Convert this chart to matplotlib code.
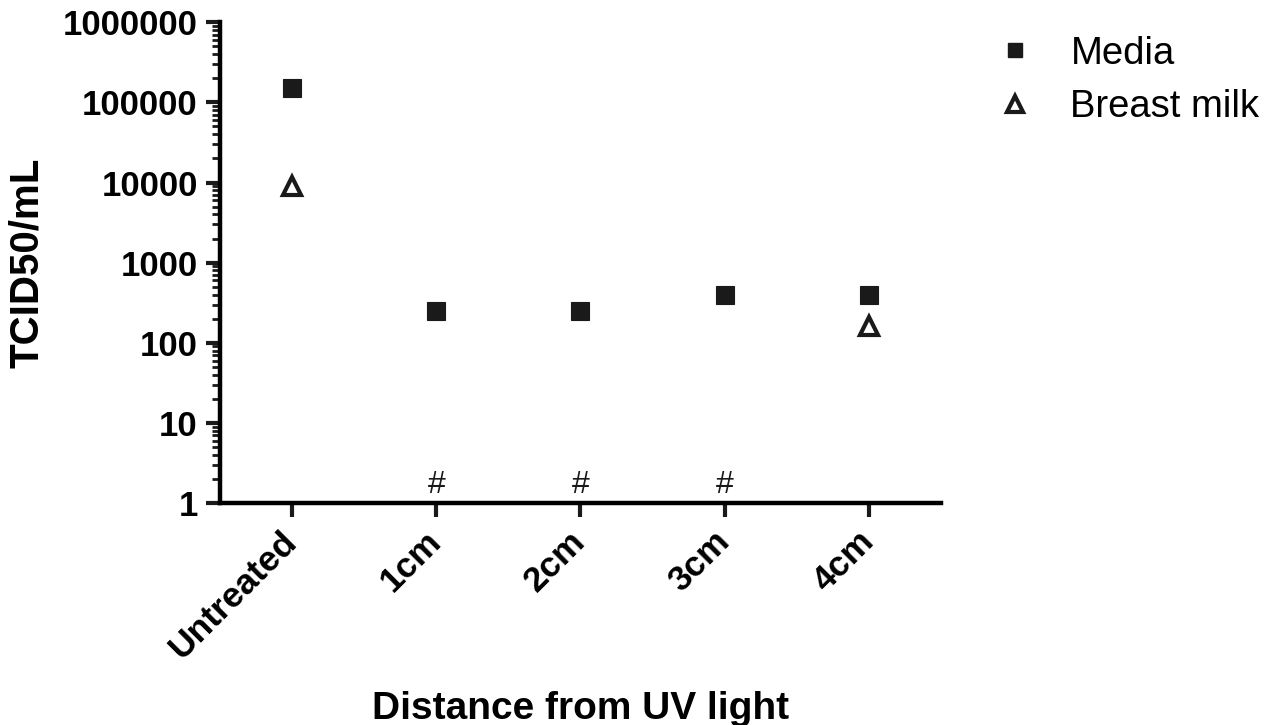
import numpy as np
import matplotlib
matplotlib.use("Agg")
import matplotlib.pyplot as plt
import matplotlib.ticker as mticker
from matplotlib.lines import Line2D

plt.rcParams["font.family"] = ["Liberation Sans", "DejaVu Sans"]

# data
categories = ["Untreated", "1cm", "2cm", "3cm", "4cm"]
media = [150000, 250, 250, 400, 400]
breast_milk = [9000, np.nan, np.nan, np.nan, 160]
hash_marks = [1, 2, 3]          # categories with no detectable virus
hash_y = 1.7

y_ticks = [1, 10, 100, 1000, 10000, 100000, 1000000]
y_ticklabels = ["1", "10", "100", "1000", "10000", "100000", "1000000"]

fig = plt.figure(figsize=(12.79, 7.25), dpi=100)
ax = fig.add_axes([0.172, 0.306, 0.5637, 0.6634])

x = np.arange(len(categories))
ax.plot(x, media, "s", color="#1a1a1a", markersize=13.5, markeredgewidth=0.8,
        linestyle="none", label="Media", zorder=3)
ax.plot(x, breast_milk, "^", markerfacecolor="white", markeredgecolor="#1a1a1a",
        markersize=12.5, markeredgewidth=3, linestyle="none", label="Breast milk", zorder=3)

for i in hash_marks:
    ax.text(i, hash_y, "#", ha="center", va="center", fontsize=23, color="#1a1a1a")

ax.set_yscale("log")
ax.set_ylim(1, 1000000)
ax.set_xlim(-0.5, 4.5)
ax.yaxis.set_major_locator(mticker.FixedLocator(y_ticks))
ax.yaxis.set_major_formatter(mticker.FixedFormatter(y_ticklabels))
ax.yaxis.set_minor_locator(mticker.LogLocator(base=10, subs=np.arange(2, 10)))
ax.yaxis.set_minor_formatter(mticker.NullFormatter())

ax.set_xticks(x)
ax.set_xticklabels(categories, rotation=45, ha="right", va="center",
                   rotation_mode="anchor", fontsize=25.5, fontweight="bold")
for lab in ax.get_yticklabels():
    lab.set_fontsize(25)
    lab.set_fontweight("bold")

ax.spines["top"].set_visible(False)
ax.spines["right"].set_visible(False)
ax.spines["left"].set_linewidth(3.2)
ax.spines["bottom"].set_linewidth(3.2)
ax.tick_params(axis="both", which="major", length=10, width=3, color="#1a1a1a", pad=6)
ax.tick_params(axis="y", which="minor", length=5.5, width=2, color="#1a1a1a")
ax.tick_params(axis="x", pad=14)

ax.set_ylabel("TCID50/mL", fontsize=29, fontweight="bold", labelpad=12)
ax.set_xlabel("Distance from UV light", fontsize=28, fontweight="bold")
ax.xaxis.set_label_coords(0.5, -0.39)

handles = [
    Line2D([], [], marker="s", color="#1a1a1a", linestyle="none", markersize=10),
    Line2D([], [], marker="^", markerfacecolor="white", markeredgecolor="#1a1a1a",
           markeredgewidth=3, linestyle="none", markersize=11),
]
ax.legend(handles, ["Media", "Breast milk"], loc="upper left",
          bbox_to_anchor=(0.7787, 0.951), bbox_transform=fig.transFigure,
          frameon=False, fontsize=27.5, handlelength=1.0, handletextpad=0.95,
          labelspacing=0.47, borderpad=0, borderaxespad=0)

fig.savefig("out.png", dpi=100)
